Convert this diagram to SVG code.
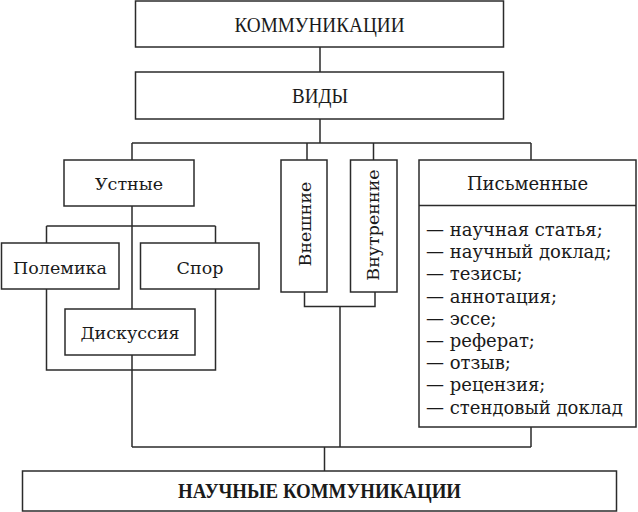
<svg xmlns="http://www.w3.org/2000/svg" width="638" height="512" viewBox="0 0 638 512">
<style>
.box{fill:#fff;stroke:#2b2b2b;stroke-width:1.5}
.ln{fill:none;stroke:#2b2b2b;stroke-width:1.5}
.cap{font-family:"Liberation Serif","Times New Roman",serif;font-size:20.5px;fill:#1a1a1a;text-anchor:middle}
.capb{font-family:"Liberation Serif","Times New Roman",serif;font-size:20.5px;font-weight:bold;fill:#1a1a1a;text-anchor:middle}
.t{font-family:"DejaVu Serif",serif;font-size:17.5px;fill:#1a1a1a;text-anchor:middle}
.li{font-family:"DejaVu Serif",serif;font-size:18px;fill:#1a1a1a}
</style>
<rect width="638" height="512" fill="#fff"/>
<g id="connectors">
<path class="ln" d="M320,47V72M320,119V143M132,143H531M132,143V160M307,143V160M373.5,143V160M531,143V160"/>
<path class="ln" d="M132,206V309M46.5,226H215.5M46.5,226V243M215.5,226V243M46.5,289V370H215.5V289M132,355V447"/>
<path class="ln" d="M304.5,292V306.5H375V292M340,306.5V447M531,427V447M132,447H531M324.5,447V471"/>
</g>
<g id="kommunikatsii"><rect class="box" x="135.5" y="1" width="368" height="46"/><text class="cap" x="319.5" y="32" textLength="170" lengthAdjust="spacingAndGlyphs">КОММУНИКАЦИИ</text></g>
<g id="vidy"><rect class="box" x="135.5" y="72" width="368" height="47"/><text class="cap" x="320" y="103" textLength="56" lengthAdjust="spacingAndGlyphs">ВИДЫ</text></g>
<g id="ustnye"><rect class="box" x="64" y="160" width="130" height="46"/><text class="t" x="129" y="190">Устные</text></g>
<g id="polemika"><rect class="box" x="1.5" y="243" width="117.5" height="46"/><text class="t" x="60" y="274">Полемика</text></g>
<g id="spor"><rect class="box" x="140.5" y="243" width="118.5" height="46"/><text class="t" x="200" y="274">Спор</text></g>
<g id="diskussiya"><rect class="box" x="65" y="309" width="130" height="46"/><text class="t" x="130" y="339">Дискуссия</text></g>
<g id="vneshnie"><rect class="box" x="281" y="160" width="46" height="132"/><text class="t" transform="translate(311,224) rotate(-90)">Внешние</text></g>
<g id="vnutrennie"><rect class="box" x="350.5" y="160" width="46.5" height="132"/><text class="t" transform="translate(379,225) rotate(-90)">Внутренние</text></g>
<g id="pismennye"><rect class="box" x="419" y="160" width="217" height="267"/><path class="ln" d="M419,205.5H636"/><text class="t" x="527.5" y="190" style="font-size:18px">Письменные</text>
<text class="li" x="426"><tspan x="426" y="236">— научная статья;</tspan><tspan x="426" y="258.2">— научный доклад;</tspan><tspan x="426" y="280.4">— тезисы;</tspan><tspan x="426" y="302.6">— аннотация;</tspan><tspan x="426" y="324.8">— эссе;</tspan><tspan x="426" y="347">— реферат;</tspan><tspan x="426" y="369.2">— отзыв;</tspan><tspan x="426" y="391.4">— рецензия;</tspan><tspan x="426" y="413.6">— стендовый доклад</tspan></text></g>
<g id="nauchnye"><rect class="box" x="22.5" y="471" width="594" height="40"/><text class="capb" x="319.5" y="498" textLength="283" lengthAdjust="spacingAndGlyphs">НАУЧНЫЕ КОММУНИКАЦИИ</text></g>
</svg>
